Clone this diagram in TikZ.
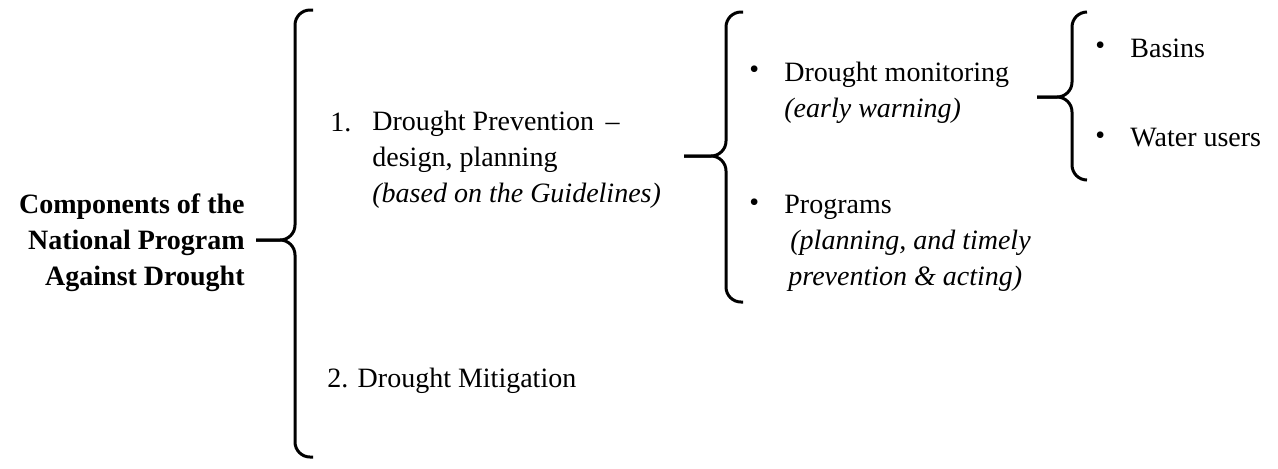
\documentclass[tikz,border=0pt]{standalone}
\usepackage{fontspec}
\setmainfont{Liberation Serif}
\usetikzlibrary{positioning}

\begin{document}
\begin{tikzpicture}[
    x=0.5pt, y=-0.5pt,
    item/.style={font=\fontsize{14}{18}\selectfont, inner sep=0pt, anchor=west, align=left},
    head/.style={font=\fontsize{14}{18}\selectfont\bfseries, inner sep=0pt, anchor=east, align=right},
    dot/.style={font=\fontsize{14}{18}\selectfont, inner sep=0pt, anchor=west},
    brace/.style={line width=1.5pt, rounded corners=7.5pt},
]

%Background
\fill[white] (0, 0) rectangle (1278, 468);

% Title
\node[head] (title) at (245, 242.5) {Components of the\\National Program\\Against Drought};

% First level
\node[item] (num_1) at (330, 122) {1.};
\node[item] (prevention) at (372, 160) {Drought Prevention \,--\\design, planning\\\textit{(based on the Guidelines)}};
\node[item] (mitigation) at (327, 380.5) {2. Drought Mitigation};

% Second level
\node[dot] (dot_monitoring) at (749, 72) {\textbullet};
\node[item] (monitoring) at (784, 92.5) {Drought monitoring\\\textit{(early warning)}};
\node[dot] (dot_programs) at (749, 205) {\textbullet};
\node[item] (programs) at (784, 243.5) {Programs\\\hspace*{3pt}\textit{(planning, and timely}\\\hspace*{2pt}\textit{prevention \& acting)}};

% Third level
\node[dot] (dot_basins) at (1095, 48) {\textbullet};
\node[item] (basins) at (1130, 48) {Basins};
\node[dot] (dot_users) at (1095, 138) {\textbullet};
\node[item] (users) at (1130, 138) {Water users};

% Brace ends
\coordinate (brace_1_top) at (313, 10);
\coordinate (brace_1_tip) at (256, 240);
\coordinate (brace_1_bottom) at (313, 457);
\coordinate (brace_2_top) at (743, 12);
\coordinate (brace_2_tip) at (684, 156);
\coordinate (brace_2_bottom) at (743, 302);
\coordinate (brace_3_top) at (1087, 12);
\coordinate (brace_3_tip) at (1037, 97);
\coordinate (brace_3_bottom) at (1087, 180);

% Braces
\draw[brace] (brace_1_top) -- ++(-18, 0) |- (brace_1_tip);
\draw[brace] (brace_1_bottom) -- ++(-18, 0) |- (brace_1_tip);
\draw[brace] (brace_2_top) -- ++(-17, 0) |- (brace_2_tip);
\draw[brace] (brace_2_bottom) -- ++(-17, 0) |- (brace_2_tip);
\draw[brace] (brace_3_top) -- ++(-15, 0) |- (brace_3_tip);
\draw[brace] (brace_3_bottom) -- ++(-15, 0) |- (brace_3_tip);

\end{tikzpicture}
\end{document}
